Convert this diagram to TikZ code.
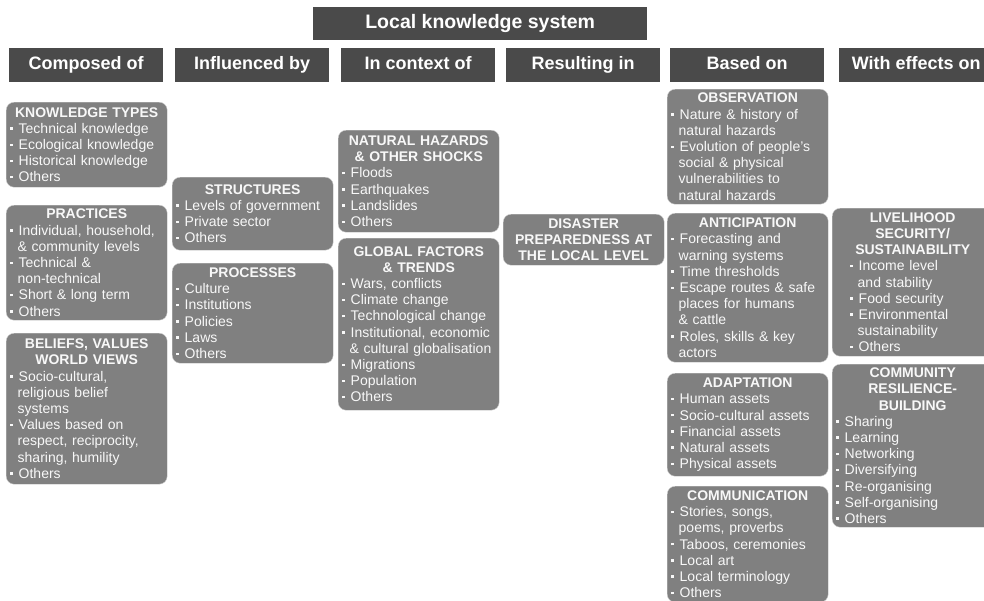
\documentclass[tikz,border=0pt]{standalone}
\usepackage{fontspec}
\setmainfont{Liberation Sans}
\usepackage{xcolor}
\usepackage{tikz}
\usetikzlibrary{positioning}

\definecolor{headgray}{RGB}{74,74,74}
\definecolor{boxgray}{RGB}{128,128,128}
\definecolor{boxline}{RGB}{205,205,205}
\definecolor{boxtext}{RGB}{248,248,248}

% box title and bullet items (\newline keeps the hanging indent)
\newcommand{\ttl}[1]{{\centering\bfseries #1\par}}
\newcommand{\itm}[1]{\hangindent=7.5pt\hangafter=1\noindent\makebox[8.5pt][l]{\raisebox{3.6pt}{\rule{2.4pt}{2.4pt}}}#1\par}

\begin{document}
\begin{tikzpicture}[x=1pt, y=-1pt,
    head/.style={rectangle, fill=headgray, text=white, anchor=north west, inner sep=0pt,
      minimum width=154pt, minimum height=34pt, text height=13pt, text depth=4pt,
      font=\bfseries\fontsize{18}{20}\selectfont},
    panel/.style={rectangle, rounded corners=8pt, draw=boxline, fill=boxgray, text=boxtext,
      anchor=north west, text width=153pt, inner xsep=4pt, inner ysep=1pt, align=left,
      font=\fontsize{14}{16.2}\selectfont}
  ]
  \useasboundingbox (0,0) rectangle (984,600);

  % Title and column headers
  \node[head, minimum width=334pt, minimum height=33pt, text height=14pt, text depth=4.5pt,
    font=\bfseries\fontsize{19.5}{22}\selectfont] (system) at (313,7) {Local knowledge system};
  \node[head] (composed)   at (9,48)   {Composed of};
  \node[head] (influenced) at (175,48) {Influenced by};
  \node[head] (context)    at (341,48) {In context of};
  \node[head] (resulting)  at (506,48) {Resulting in};
  \node[head] (based)      at (670,48) {Based on};
  \node[head] (effects)    at (839,48) {With effects on};

  % Composed of
  \node[panel, minimum height=85pt] (types) at (6,102) {
    \ttl{KNOWLEDGE TYPES}
    \itm{Technical knowledge}
    \itm{Ecological knowledge}
    \itm{Historical knowledge}
    \itm{Others}
  };
  \node[panel, minimum height=115pt] (practices) at (6,205) {
    \ttl{PRACTICES}
    \itm{Individual, household,\newline \& community levels}
    \itm{Technical \&\newline non-technical}
    \itm{Short \& long term}
    \itm{Others}
  };
  \node[panel, minimum height=151pt] (beliefs) at (6,333) {
    \ttl{BELIEFS, VALUES\\ WORLD VIEWS}
    \itm{Socio-cultural,\newline religious belief\newline systems}
    \itm{Values based on\newline respect, reciprocity,\newline sharing, humility}
    \itm{Others}
  };

  % Influenced by
  \node[panel, minimum height=73pt] (structures) at (172,177) {
    \ttl{STRUCTURES}
    \itm{Levels of government}
    \itm{Private sector}
    \itm{Others}
  };
  \node[panel, minimum height=100pt] (processes) at (172,263) {
    \ttl{PROCESSES}
    \itm{Culture}
    \itm{Institutions}
    \itm{Policies}
    \itm{Laws}
    \itm{Others}
  };

  % In context of
  \node[panel, minimum height=102pt] (hazards) at (338,130) {
    \ttl{NATURAL HAZARDS\\ \& OTHER SHOCKS}
    \itm{Floods}
    \itm{Earthquakes}
    \itm{Landslides}
    \itm{Others}
  };
  \node[panel, minimum height=172pt] (global) at (338,238) {
    \ttl{GLOBAL FACTORS\\ \& TRENDS}
    \itm{Wars, conflicts}
    \itm{Climate change}
    \itm{Technological change}
    \itm{Institutional, economic\newline \& cultural globalisation}
    \itm{Migrations}
    \itm{Population}
    \itm{Others}
  };

  % Resulting in
  \node[panel, minimum height=51pt] (preparedness) at (503,214) {
    \ttl{DISASTER\\ PREPAREDNESS AT\\ THE LOCAL LEVEL}
  };

  % Based on
  \node[panel, minimum height=115pt] (observation) at (667,89) {
    \ttl{OBSERVATION}
    \itm{Nature \& history of\newline natural hazards}
    \itm{Evolution of people's\newline social \& physical\newline vulnerabilities to\newline natural hazards}
  };
  \node[panel, minimum height=149pt] (anticipation) at (667,213) {
    \ttl{ANTICIPATION}
    \itm{Forecasting and\newline warning systems}
    \itm{Time thresholds}
    \itm{Escape routes \& safe\newline places for humans\newline \& cattle}
    \itm{Roles, skills \& key\newline actors}
  };
  \node[panel, minimum height=103pt] (adaptation) at (667,373) {
    \ttl{ADAPTATION}
    \itm{Human assets}
    \itm{Socio-cultural assets}
    \itm{Financial assets}
    \itm{Natural assets}
    \itm{Physical assets}
  };
  \node[panel, minimum height=116pt] (communication) at (667,486) {
    \ttl{COMMUNICATION}
    \itm{Stories, songs,\newline poems, proverbs}
    \itm{Taboos, ceremonies}
    \itm{Local art}
    \itm{Local terminology}
    \itm{Others}
  };

  % With effects on
  \node[panel, minimum height=148pt] (livelihood) at (832,208) {
    \ttl{LIVELIHOOD\\ SECURITY/\\ SUSTAINABILITY}
    \leftskip=14pt
    \itm{Income level\newline and stability}
    \itm{Food security}
    \itm{Environmental\newline sustainability}
    \itm{Others}
  };
  \node[panel, minimum height=163pt] (resilience) at (832,364) {
    \ttl{COMMUNITY\\ RESILIENCE-\\ BUILDING}
    \itm{Sharing}
    \itm{Learning}
    \itm{Networking}
    \itm{Diversifying}
    \itm{Re-organising}
    \itm{Self-organising}
    \itm{Others}
  };
\end{tikzpicture}
\end{document}
